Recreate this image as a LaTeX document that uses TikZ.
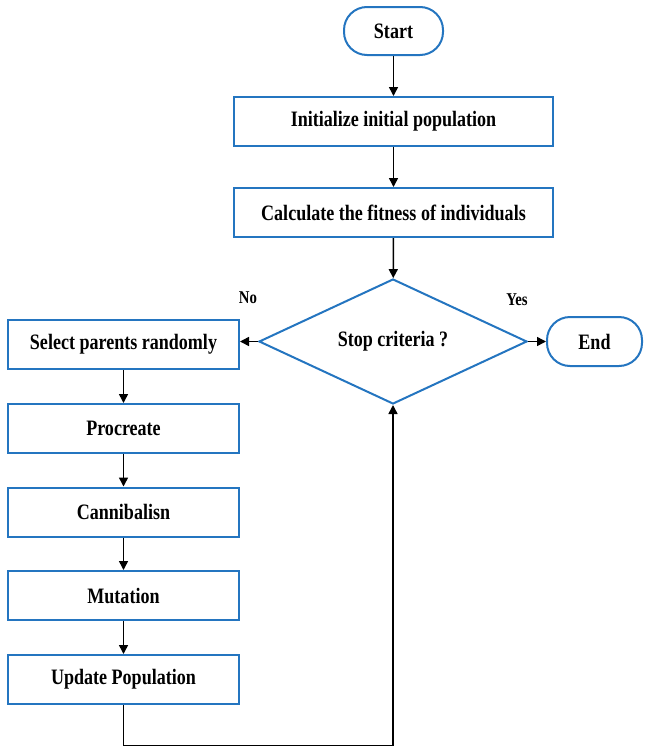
\documentclass[tikz,border=0pt]{standalone}
\usepackage{fontspec}
\setmainfont{Liberation Serif}[FakeStretch=0.82]
\usetikzlibrary{shapes.geometric,arrows.meta}
\definecolor{flowblue}{RGB}{36,117,192}
\tikzset{
  box/.style={draw=flowblue,line width=2pt,rectangle,inner sep=0pt,font=\bfseries\fontsize{22}{26}\selectfont},
  term/.style={box,rounded corners=23pt},
  dec/.style={draw=flowblue,line width=2pt,diamond,aspect=2.15,inner sep=0pt,minimum width=268pt,minimum height=125pt,font=\bfseries\fontsize{22}{26}\selectfont},
  flow/.style={draw=black,line width=1.5pt,-{Triangle[length=9pt,width=9pt]}},
  lbl/.style={font=\bfseries\fontsize{18}{20}\selectfont}
}
\begin{document}
\begin{tikzpicture}[x=1pt,y=-1pt]
\useasboundingbox (0,0) rectangle (645,747);
\node[term,minimum width=99pt,minimum height=48pt] (start) at (393.5,31) {Start};
\node[box,minimum width=319pt,minimum height=49pt] (init) at (393.5,121.5) {Initialize initial population};
\node[box,minimum width=319pt,minimum height=49pt] (calc) at (393.5,212.5) {Calculate the fitness of individuals};
\node[dec] (stop) at (393,341.5) {Stop criteria ?};
\node[term,minimum width=95pt,minimum height=49pt] (end) at (594.5,341.5) {End};
\node[box,minimum width=231pt,minimum height=49pt] (sel) at (123.5,344.5) {Select parents randomly};
\node[box,minimum width=231pt,minimum height=49pt] (proc) at (123.5,428.5) {Procreate};
\node[box,minimum width=231pt,minimum height=49pt] (cann) at (123.5,512) {Cannibalisn};
\node[box,minimum width=231pt,minimum height=49pt] (mut) at (123.5,595.5) {Mutation};
\node[box,minimum width=231pt,minimum height=49pt] (upd) at (123.5,679.5) {Update Population};
\node[lbl] (no) at (248,298) {No};
\node[lbl] (yes) at (517,300) {Yes};
\coordinate (c1) at (123.5,745.5);
\coordinate (c2) at (393,745.5);
\draw[flow] (start) -- (init);
\draw[flow] (init) -- (calc);
\draw[flow] (calc) -- (stop);
\draw[flow] (stop.west) -- (sel.east |- stop.west);
\draw[flow] (stop.east) -- (end);
\draw[flow] (sel) -- (proc);
\draw[flow] (proc) -- (cann);
\draw[flow] (cann) -- (mut);
\draw[flow] (mut) -- (upd);
\draw[flow] (upd.south) -- (c1) -- (c2) -- (stop.south);
\end{tikzpicture}
\end{document}
